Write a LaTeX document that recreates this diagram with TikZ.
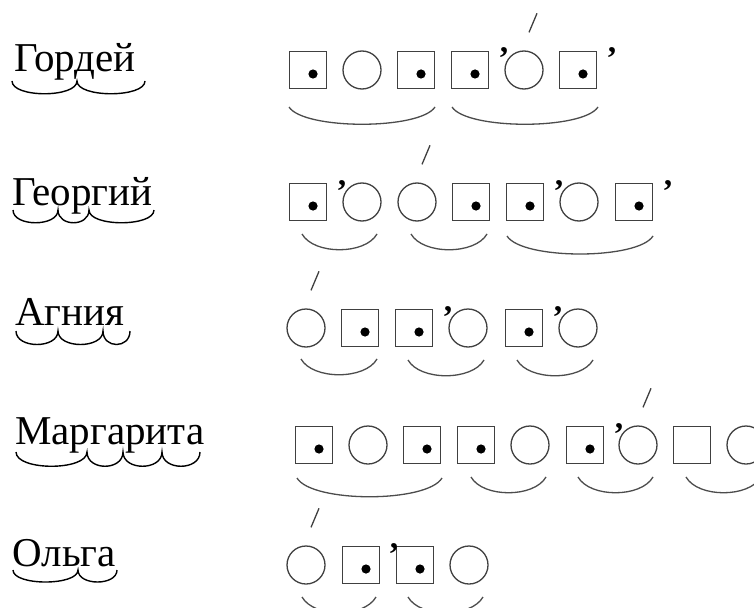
\documentclass[tikz,border=0pt]{standalone}
\usepackage{fontspec}
\setmainfont{Liberation Serif}

\begin{document}
\begin{tikzpicture}[x=1pt,y=-1pt,
  word/.style={anchor=base west,inner sep=0pt,font=\fontsize{41}{46}\selectfont},
  cons/.style={draw=black!75,line width=1.3pt,minimum size=37pt,inner sep=0pt},
  consd/.style={cons,path picture={\fill ([xshift=5pt,yshift=-4pt]path picture bounding box.center) circle (4.6pt);}},
  vow/.style={draw=black!75,line width=1.3pt,circle,minimum size=38pt,inner sep=0pt},
  apos/.style={anchor=base west,inner sep=0pt,font=\bfseries\fontsize{33}{36}\selectfont},
  stress/.style={draw=black!75,line width=1.3pt},
  arc/.style={draw=black!70,line width=1.3pt},
  warc/.style={draw=black,line width=1.4pt}]
\clip (0,0) rectangle (754,607);
\fill[white] (0,0) rectangle (754,607);

% words
\node[word] (w1) at (14,72) {Гордей};
\node[word] (w2) at (12,205) {Георгий};
\node[word] (w3) at (15,325) {Агния};
\node[word] (w4) at (15,444) {Маргарита};
\node[word] (w5) at (12,566) {Ольга};
\draw[warc] (12,81) .. controls +(0,17) and +(0,17) .. (77,81)
  .. controls +(0,17) and +(0,17) .. (145,81);
\draw[warc] (13,210) .. controls +(0,17) and +(0,17) .. (58,210)
  .. controls +(0,17) and +(0,17) .. (89,210)
  .. controls +(0,17) and +(0,17) .. (154,210);
\draw[warc] (16,331) .. controls +(0,18) and +(0,18) .. (58,331)
  .. controls +(0,18) and +(0,18) .. (103,331)
  .. controls +(0,18) and +(0,18) .. (130,331);
\draw[warc] (16,452) .. controls +(0,19) and +(0,19) .. (87,452)
  .. controls +(0,19) and +(0,19) .. (123,452)
  .. controls +(0,19) and +(0,19) .. (162,452)
  .. controls +(0,19) and +(0,19) .. (200,452);
\draw[warc] (13,570) .. controls +(0,16) and +(0,16) .. (78,570)
  .. controls +(0,16) and +(0,16) .. (117,570);

% row 1
\node[consd] (s11) at (308,70) {};
\node[vow] (c12) at (362,70) {};
\node[consd] (s13) at (416,70) {};
\node[consd] (s14) at (470,70) {};
\node[vow] (c15) at (524,70) {};
\node[consd] (s16) at (578,70) {};
\node[apos] (a14) at ([xshift=9pt]s14.east) {’};
\node[apos] (a16) at ([xshift=9pt]s16.east) {’};
\draw[stress] ([xshift=5pt,yshift=18pt]c15.north) -- ([xshift=13pt,yshift=37pt]c15.north);
\draw[arc] (289,107) .. controls +(15,23) and +(-15,23) .. (435,107);
\draw[arc] (452,107) .. controls +(15,23) and +(-15,23) .. (598,107);

% row 2
\node[consd] (s21) at (308,202) {};
\node[vow] (c22) at (362,202) {};
\node[vow] (c23) at (417,202) {};
\node[consd] (s24) at (471,202) {};
\node[consd] (s25) at (525,202) {};
\node[vow] (c26) at (579,202) {};
\node[consd] (s27) at (634,202) {};
\node[apos] (a21) at ([xshift=9pt]s21.east) {’};
\node[apos] (a25) at ([xshift=9pt]s25.east) {’};
\node[apos] (a27) at ([xshift=9pt]s27.east) {’};
\draw[stress] ([xshift=5pt,yshift=18pt]c23.north) -- ([xshift=13pt,yshift=37pt]c23.north);
\draw[arc] (302,234) .. controls +(12,21) and +(-12,21) .. (377,234);
\draw[arc] (411,234) .. controls +(12,21) and +(-12,21) .. (487,234);
\draw[arc] (507,236) .. controls +(15,24) and +(-15,24) .. (653,236);

% row 3
\node[vow] (c31) at (306,328) {};
\node[consd] (s32) at (360,328) {};
\node[consd] (s33) at (414,328) {};
\node[vow] (c34) at (468,328) {};
\node[consd] (s35) at (524,328) {};
\node[vow] (c36) at (578,328) {};
\node[apos] (a33) at ([xshift=9pt]s33.east) {’};
\node[apos] (a35) at ([xshift=9pt]s35.east) {’};
\draw[stress] ([xshift=5pt,yshift=18pt]c31.north) -- ([xshift=13pt,yshift=37pt]c31.north);
\draw[arc] (301,359) .. controls +(12,21) and +(-12,21) .. (377,359);
\draw[arc] (408,360) .. controls +(12,21) and +(-12,21) .. (484,360);
\draw[arc] (517,360) .. controls +(12,21) and +(-12,21) .. (593,360);

% row 4
\node[consd] (s41) at (314,445) {};
\node[vow] (c42) at (368,445) {};
\node[consd] (s43) at (422,445) {};
\node[consd] (s44) at (476,445) {};
\node[vow] (c45) at (530,445) {};
\node[consd] (s46) at (585,445) {};
\node[vow] (c47) at (638,445) {};
\node[cons] (s48) at (692,445) {};
\node[vow] (c49) at (746,445) {};
\node[apos] (a46) at ([xshift=9pt]s46.east) {’};
\draw[stress] ([xshift=5pt,yshift=18pt]c47.north) -- ([xshift=13pt,yshift=37pt]c47.north);
\draw[arc] (297,478) .. controls +(15,25) and +(-15,25) .. (442,478);
\draw[arc] (471,477) .. controls +(12,21) and +(-12,21) .. (546,477);
\draw[arc] (578,477) .. controls +(12,21) and +(-12,21) .. (653,477);
\draw[arc] (686,477) .. controls +(12,21) and +(-12,21) .. (761,477);

% row 5
\node[vow] (c51) at (306,565) {};
\node[consd] (s52) at (361,565) {};
\node[consd] (s53) at (415,565) {};
\node[vow] (c54) at (469,565) {};
\node[apos] (a52) at ([xshift=8pt]s52.east) {’};
\draw[stress] ([xshift=5pt,yshift=18pt]c51.north) -- ([xshift=13pt,yshift=37pt]c51.north);
\draw[arc] (302,597) .. controls +(12,21) and +(-12,21) .. (376,597);
\draw[arc] (408,597) .. controls +(12,21) and +(-12,21) .. (483,597);
\end{tikzpicture}
\end{document}
